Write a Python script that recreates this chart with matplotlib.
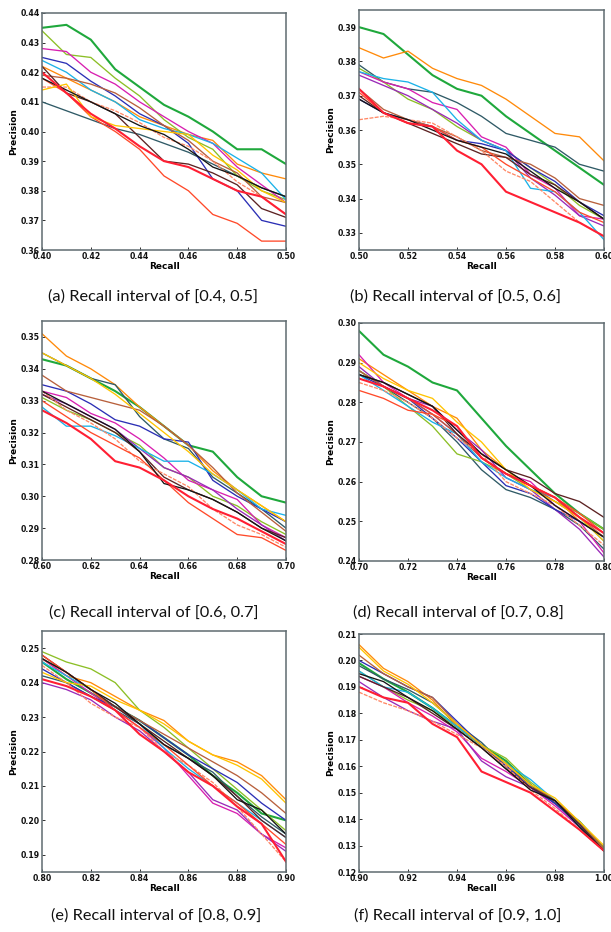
import numpy as np
import matplotlib
matplotlib.use("Agg")
import matplotlib.pyplot as plt

# ---- series styles (shared across panels) ----
series_names = ["green", "orange", "darkslate", "yellowgreen", "magenta", "purple",
                "blue", "cyan", "sienna", "darkbrown", "salmon", "orangered",
                "gold", "black", "red"]
series_colors = {"green": "#1fa83c", "orange": "#ff8a0a", "darkslate": "#2f5a66",
                 "yellowgreen": "#8cbf26", "magenta": "#d81fb0", "purple": "#9a2ab8",
                 "blue": "#2b2fb5", "cyan": "#1ab2e8", "sienna": "#b8603c",
                 "darkbrown": "#5c2222", "salmon": "#ff8866", "orangered": "#ff4a2a",
                 "gold": "#ffc400", "black": "#151515", "red": "#ff1f33"}

# ---- panel (a) recall 0.40-0.50 ----
recall_a = [0.40, 0.41, 0.42, 0.43, 0.44, 0.45, 0.46, 0.47, 0.48, 0.49, 0.50]
prec_a = {
    "green":       [0.435, 0.436, 0.431, 0.421, 0.415, 0.409, 0.405, 0.400, 0.394, 0.394, 0.389],
    "orange":      [0.422, 0.418, 0.414, 0.410, 0.405, 0.402, 0.399, 0.397, 0.389, 0.386, 0.384],
    "darkslate":   [0.410, 0.407, 0.404, 0.401, 0.399, 0.396, 0.393, 0.389, 0.385, 0.381, 0.378],
    "yellowgreen": [0.434, 0.426, 0.425, 0.418, 0.412, 0.404, 0.398, 0.394, 0.385, 0.380, 0.377],
    "magenta":     [0.428, 0.427, 0.420, 0.416, 0.410, 0.405, 0.400, 0.396, 0.388, 0.382, 0.376],
    "blue":        [0.425, 0.423, 0.417, 0.412, 0.406, 0.402, 0.396, 0.384, 0.380, 0.370, 0.368],
    "cyan":        [0.424, 0.420, 0.414, 0.410, 0.404, 0.401, 0.399, 0.396, 0.391, 0.386, 0.377],
    "sienna":      [0.419, 0.418, 0.416, 0.413, 0.408, 0.402, 0.397, 0.390, 0.386, 0.378, 0.376],
    "darkbrown":   [0.422, 0.413, 0.410, 0.406, 0.398, 0.390, 0.389, 0.386, 0.382, 0.374, 0.371],
    "salmon":      [0.415, 0.415, 0.410, 0.407, 0.403, 0.398, 0.395, 0.390, 0.383, 0.378, 0.372],
    "orangered":   [0.418, 0.413, 0.405, 0.400, 0.394, 0.385, 0.380, 0.372, 0.369, 0.363, 0.363],
    "gold":        [0.414, 0.416, 0.405, 0.402, 0.401, 0.400, 0.399, 0.392, 0.387, 0.380, 0.376],
    "black":       [0.418, 0.414, 0.410, 0.406, 0.402, 0.399, 0.394, 0.388, 0.385, 0.381, 0.378],
    "red":         [0.420, 0.413, 0.406, 0.401, 0.395, 0.390, 0.388, 0.384, 0.380, 0.378, 0.372],
}

# ---- panel (b) recall 0.50-0.60 ----
recall_b = [0.50, 0.51, 0.52, 0.53, 0.54, 0.55, 0.56, 0.57, 0.58, 0.59, 0.60]
prec_b = {
    "green":       [0.390, 0.388, 0.382, 0.376, 0.372, 0.370, 0.364, 0.359, 0.354, 0.349, 0.344],
    "orange":      [0.384, 0.381, 0.383, 0.378, 0.375, 0.373, 0.369, 0.364, 0.359, 0.358, 0.351],
    "darkslate":   [0.379, 0.374, 0.372, 0.371, 0.368, 0.364, 0.359, 0.357, 0.355, 0.350, 0.348],
    "cyan":        [0.377, 0.375, 0.374, 0.371, 0.363, 0.357, 0.354, 0.343, 0.342, 0.336, 0.328],
    "magenta":     [0.377, 0.374, 0.372, 0.368, 0.366, 0.358, 0.355, 0.347, 0.343, 0.335, 0.334],
    "purple":      [0.376, 0.373, 0.370, 0.366, 0.362, 0.357, 0.354, 0.346, 0.341, 0.335, 0.332],
    "yellowgreen": [0.378, 0.374, 0.369, 0.366, 0.361, 0.357, 0.354, 0.349, 0.344, 0.338, 0.334],
    "blue":        [0.369, 0.365, 0.363, 0.361, 0.357, 0.356, 0.354, 0.349, 0.345, 0.339, 0.335],
    "sienna":      [0.372, 0.366, 0.363, 0.361, 0.358, 0.354, 0.352, 0.350, 0.346, 0.340, 0.338],
    "darkbrown":   [0.370, 0.365, 0.362, 0.359, 0.356, 0.353, 0.352, 0.347, 0.344, 0.339, 0.334],
    "black":       [0.369, 0.365, 0.363, 0.360, 0.357, 0.355, 0.353, 0.348, 0.343, 0.339, 0.334],
    "salmon":      [0.363, 0.364, 0.363, 0.362, 0.358, 0.354, 0.348, 0.345, 0.339, 0.333, 0.329],
    "orangered":   [0.371, 0.365, 0.362, 0.361, 0.357, 0.355, 0.350, 0.346, 0.342, 0.336, 0.333],
    "red":         [0.372, 0.365, 0.362, 0.361, 0.354, 0.350, 0.342, 0.339, 0.336, 0.333, 0.329],
}

# ---- panel (c) recall 0.60-0.70 ----
recall_c = [0.60, 0.61, 0.62, 0.63, 0.64, 0.65, 0.66, 0.67, 0.68, 0.69, 0.70]
prec_c = {
    "orange":      [0.351, 0.344, 0.340, 0.335, 0.328, 0.322, 0.316, 0.308, 0.302, 0.297, 0.292],
    "gold":        [0.345, 0.341, 0.337, 0.332, 0.326, 0.320, 0.314, 0.307, 0.302, 0.297, 0.292],
    "darkslate":   [0.345, 0.341, 0.337, 0.335, 0.325, 0.318, 0.315, 0.306, 0.301, 0.296, 0.290],
    "green":       [0.343, 0.341, 0.337, 0.333, 0.328, 0.322, 0.316, 0.314, 0.306, 0.300, 0.298],
    "sienna":      [0.338, 0.333, 0.331, 0.329, 0.327, 0.322, 0.316, 0.309, 0.301, 0.295, 0.289],
    "blue":        [0.335, 0.333, 0.329, 0.324, 0.322, 0.318, 0.317, 0.305, 0.300, 0.296, 0.292],
    "magenta":     [0.333, 0.331, 0.326, 0.323, 0.318, 0.312, 0.305, 0.302, 0.299, 0.291, 0.287],
    "purple":      [0.332, 0.329, 0.325, 0.321, 0.315, 0.309, 0.306, 0.302, 0.296, 0.291, 0.286],
    "yellowgreen": [0.331, 0.327, 0.324, 0.320, 0.316, 0.309, 0.306, 0.300, 0.297, 0.292, 0.288],
    "black":       [0.333, 0.329, 0.325, 0.321, 0.314, 0.304, 0.302, 0.299, 0.295, 0.290, 0.286],
    "darkbrown":   [0.332, 0.328, 0.324, 0.320, 0.314, 0.306, 0.302, 0.299, 0.295, 0.290, 0.287],
    "cyan":        [0.328, 0.322, 0.322, 0.319, 0.315, 0.311, 0.311, 0.307, 0.302, 0.296, 0.294],
    "salmon":      [0.333, 0.327, 0.323, 0.318, 0.311, 0.307, 0.303, 0.296, 0.291, 0.288, 0.284],
    "orangered":   [0.330, 0.325, 0.320, 0.316, 0.312, 0.305, 0.298, 0.293, 0.288, 0.287, 0.283],
    "red":         [0.327, 0.323, 0.318, 0.311, 0.309, 0.305, 0.300, 0.296, 0.293, 0.289, 0.285],
}

# ---- panel (d) recall 0.70-0.80 ----
recall_d = [0.70, 0.71, 0.72, 0.73, 0.74, 0.75, 0.76, 0.77, 0.78, 0.79, 0.80]
prec_d = {
    "green":       [0.298, 0.292, 0.289, 0.285, 0.283, 0.276, 0.269, 0.263, 0.257, 0.252, 0.248],
    "orange":      [0.291, 0.287, 0.283, 0.279, 0.276, 0.268, 0.263, 0.259, 0.256, 0.250, 0.246],
    "gold":        [0.290, 0.286, 0.283, 0.281, 0.275, 0.270, 0.263, 0.258, 0.255, 0.251, 0.245],
    "darkbrown":   [0.287, 0.285, 0.282, 0.279, 0.272, 0.267, 0.263, 0.261, 0.257, 0.255, 0.251],
    "magenta":     [0.292, 0.285, 0.281, 0.277, 0.272, 0.266, 0.262, 0.260, 0.254, 0.250, 0.242],
    "purple":      [0.289, 0.284, 0.281, 0.279, 0.273, 0.268, 0.261, 0.258, 0.253, 0.248, 0.241],
    "blue":        [0.287, 0.284, 0.281, 0.276, 0.271, 0.265, 0.259, 0.257, 0.253, 0.250, 0.246],
    "cyan":        [0.287, 0.283, 0.279, 0.275, 0.272, 0.265, 0.261, 0.258, 0.256, 0.251, 0.245],
    "darkslate":   [0.288, 0.284, 0.280, 0.276, 0.270, 0.263, 0.258, 0.256, 0.253, 0.249, 0.243],
    "yellowgreen": [0.288, 0.284, 0.279, 0.274, 0.267, 0.265, 0.262, 0.258, 0.255, 0.252, 0.248],
    "black":       [0.287, 0.285, 0.282, 0.279, 0.273, 0.267, 0.263, 0.259, 0.254, 0.250, 0.246],
    "sienna":      [0.288, 0.284, 0.281, 0.277, 0.272, 0.266, 0.262, 0.259, 0.255, 0.251, 0.246],
    "salmon":      [0.285, 0.283, 0.280, 0.276, 0.271, 0.267, 0.260, 0.257, 0.254, 0.249, 0.244],
    "orangered":   [0.283, 0.281, 0.278, 0.277, 0.274, 0.266, 0.262, 0.259, 0.256, 0.252, 0.247],
    "red":         [0.286, 0.284, 0.281, 0.278, 0.274, 0.266, 0.262, 0.259, 0.256, 0.251, 0.247],
}

# ---- panel (e) recall 0.80-0.90 ----
recall_e = [0.80, 0.81, 0.82, 0.83, 0.84, 0.85, 0.86, 0.87, 0.88, 0.89, 0.90]
prec_e = {
    "orange":      [0.247, 0.242, 0.240, 0.236, 0.232, 0.229, 0.223, 0.219, 0.217, 0.213, 0.206],
    "gold":        [0.243, 0.240, 0.239, 0.235, 0.232, 0.228, 0.223, 0.219, 0.216, 0.212, 0.205],
    "yellowgreen": [0.249, 0.246, 0.244, 0.240, 0.232, 0.227, 0.221, 0.215, 0.209, 0.203, 0.197],
    "sienna":      [0.247, 0.243, 0.238, 0.233, 0.229, 0.225, 0.221, 0.217, 0.213, 0.208, 0.202],
    "blue":        [0.244, 0.240, 0.236, 0.233, 0.229, 0.224, 0.219, 0.215, 0.211, 0.205, 0.200],
    "black":       [0.247, 0.243, 0.238, 0.234, 0.228, 0.222, 0.218, 0.213, 0.206, 0.203, 0.196],
    "green":       [0.246, 0.241, 0.237, 0.233, 0.229, 0.224, 0.219, 0.213, 0.208, 0.202, 0.200],
    "cyan":        [0.246, 0.242, 0.238, 0.233, 0.228, 0.221, 0.215, 0.210, 0.205, 0.200, 0.195],
    "darkslate":   [0.242, 0.240, 0.236, 0.232, 0.228, 0.222, 0.218, 0.214, 0.207, 0.201, 0.196],
    "magenta":     [0.247, 0.242, 0.237, 0.232, 0.227, 0.221, 0.213, 0.205, 0.202, 0.196, 0.192],
    "purple":      [0.240, 0.238, 0.235, 0.230, 0.226, 0.220, 0.214, 0.206, 0.203, 0.196, 0.191],
    "darkbrown":   [0.248, 0.243, 0.238, 0.233, 0.228, 0.223, 0.218, 0.213, 0.207, 0.200, 0.195],
    "salmon":      [0.245, 0.240, 0.234, 0.230, 0.227, 0.220, 0.216, 0.211, 0.204, 0.196, 0.188],
    "orangered":   [0.248, 0.243, 0.238, 0.232, 0.227, 0.222, 0.216, 0.210, 0.205, 0.199, 0.193],
    "red":         [0.241, 0.239, 0.236, 0.232, 0.225, 0.220, 0.214, 0.210, 0.204, 0.199, 0.188],
}

# ---- panel (f) recall 0.90-1.00 ----
recall_f = [0.90, 0.91, 0.92, 0.93, 0.94, 0.95, 0.96, 0.97, 0.98, 0.99, 1.00]
prec_f = {
    "orange":      [0.206, 0.197, 0.192, 0.185, 0.175, 0.168, 0.160, 0.152, 0.147, 0.138, 0.129],
    "gold":        [0.205, 0.196, 0.191, 0.184, 0.176, 0.168, 0.161, 0.153, 0.148, 0.139, 0.130],
    "blue":        [0.200, 0.195, 0.190, 0.186, 0.177, 0.168, 0.160, 0.152, 0.146, 0.138, 0.128],
    "sienna":      [0.202, 0.195, 0.190, 0.186, 0.176, 0.168, 0.161, 0.153, 0.147, 0.139, 0.129],
    "green":       [0.199, 0.193, 0.188, 0.182, 0.175, 0.168, 0.162, 0.153, 0.146, 0.139, 0.129],
    "darkslate":   [0.198, 0.193, 0.189, 0.184, 0.176, 0.169, 0.160, 0.153, 0.146, 0.138, 0.128],
    "cyan":        [0.196, 0.190, 0.188, 0.182, 0.175, 0.168, 0.161, 0.155, 0.147, 0.137, 0.128],
    "black":       [0.195, 0.192, 0.186, 0.181, 0.174, 0.167, 0.159, 0.151, 0.147, 0.137, 0.128],
    "yellowgreen": [0.196, 0.190, 0.185, 0.181, 0.175, 0.168, 0.163, 0.154, 0.147, 0.139, 0.129],
    "magenta":     [0.194, 0.190, 0.184, 0.179, 0.173, 0.163, 0.158, 0.152, 0.145, 0.137, 0.128],
    "purple":      [0.192, 0.186, 0.181, 0.177, 0.174, 0.162, 0.156, 0.152, 0.146, 0.137, 0.128],
    "darkbrown":   [0.194, 0.190, 0.186, 0.180, 0.174, 0.167, 0.159, 0.152, 0.147, 0.138, 0.128],
    "salmon":      [0.188, 0.184, 0.181, 0.177, 0.172, 0.167, 0.160, 0.151, 0.144, 0.136, 0.128],
    "red":         [0.190, 0.186, 0.184, 0.176, 0.171, 0.158, 0.154, 0.150, 0.143, 0.136, 0.128],
}

captions = ["(a) Recall interval of [0.4, 0.5]", "(b) Recall interval of [0.5, 0.6]",
            "(c) Recall interval of [0.6, 0.7]", "(d) Recall interval of [0.7, 0.8]",
            "(e) Recall interval of [0.8, 0.9]", "(f) Recall interval of [0.9, 1.0]"]
ylims = [(0.36, 0.44), (0.325, 0.395), (0.28, 0.355), (0.24, 0.30), (0.185, 0.255), (0.12, 0.21)]
yticks = [[0.36, 0.37, 0.38, 0.39, 0.40, 0.41, 0.42, 0.43, 0.44],
          [0.33, 0.34, 0.35, 0.36, 0.37, 0.38, 0.39],
          [0.28, 0.29, 0.30, 0.31, 0.32, 0.33, 0.34, 0.35],
          [0.24, 0.25, 0.26, 0.27, 0.28, 0.29, 0.30],
          [0.19, 0.20, 0.21, 0.22, 0.23, 0.24, 0.25],
          [0.12, 0.13, 0.14, 0.15, 0.16, 0.17, 0.18, 0.19, 0.20, 0.21]]

panels = [(recall_a, prec_a), (recall_b, prec_b), (recall_c, prec_c),
          (recall_d, prec_d), (recall_e, prec_e), (recall_f, prec_f)]

# axes rectangles in pixels: left, top, right, bottom
W, H = 611, 932
rects_px = [(42, 13, 286, 250), (359, 10, 604, 250),
            (42, 321, 286, 560), (359, 323, 604, 561),
            (42, 631, 286, 872), (359, 634, 604, 872)]
caption_pos = [(153, 297), (456, 297), (154, 613), (458, 613), (156, 916), (458, 916)]

fig = plt.figure(figsize=(W / 100, H / 100), dpi=100)
frame_color = "#5f6b70"
thick = {"green", "red"}
for i, ((rx, pr), (l, t, r, b)) in enumerate(zip(panels, rects_px)):
    ax = fig.add_axes([l / W, 1 - b / H, (r - l) / W, (b - t) / H])
    for name in series_names:
        if name not in pr:
            continue
        ls = (0, (3, 1)) if name == "salmon" else "-"
        lw = 1.5 if name in thick else 0.95
        ax.plot(rx, pr[name], color=series_colors[name], lw=lw, ls=ls)
    ax.set_xlim(rx[0], rx[-1])
    ax.set_ylim(*ylims[i])
    ax.set_xticks(rx[::2])
    ax.set_xticklabels([f"{v:.2f}" for v in rx[::2]])
    ax.set_yticks(yticks[i])
    ax.set_yticklabels([f"{v:.2f}" for v in yticks[i]])
    ax.tick_params(direction="in", length=2, width=0.6, pad=1.5, labelsize=5.6,
                   colors="#111111")
    for lab in ax.get_xticklabels() + ax.get_yticklabels():
        lab.set_fontweight("bold")
    for s in ax.spines.values():
        s.set_color(frame_color)
        s.set_linewidth(1.1)
    ax.set_xlabel("Recall", fontsize=6.5, fontweight="bold", labelpad=0.5)
    ax.set_ylabel("Precision", fontsize=6.5, fontweight="bold", labelpad=2)
    cx, cy = caption_pos[i]
    fig.text(cx / W, 1 - cy / H, captions[i], ha="center", va="center",
             fontsize=11.8, family="Lato", color="#111111")

fig.savefig("out.png", dpi=100)
